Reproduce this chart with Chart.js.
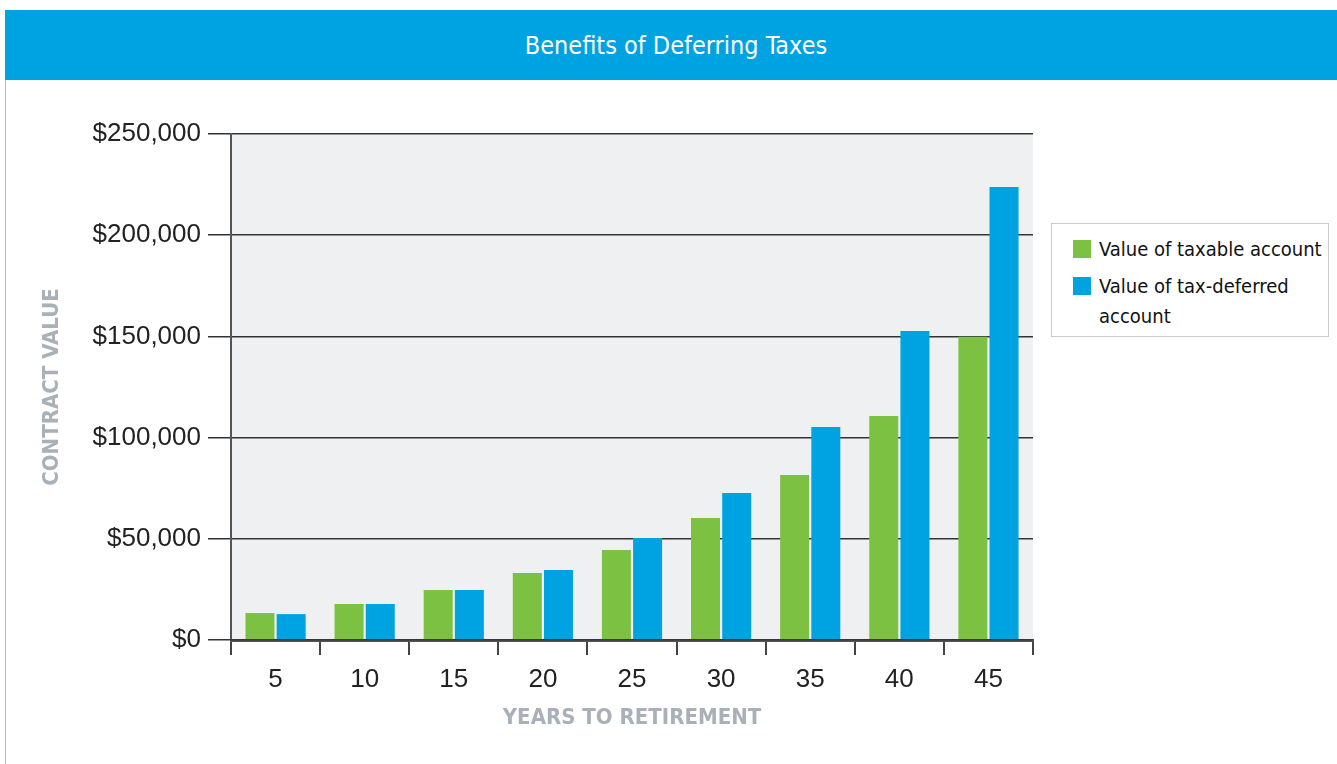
<!DOCTYPE html>
<html>
<head>
<meta charset="utf-8">
<script src="https://cdn.jsdelivr.net/npm/chart.js@4.4.1/dist/chart.umd.min.js"></script>
<style>
  html, body { margin: 0; padding: 0; background: #fff; width: 1337px; height: 764px; overflow: hidden; }
  .title-bar {
    position: absolute; left: 5px; top: 10px; width: 1332px; height: 70px;
    background: #00a3e2; color: #fff;
    font-family: 'Liberation Sans Narrow', 'DejaVu Sans Condensed', 'Liberation Sans', sans-serif;
    font-size: 25px; line-height: 72px; text-align: center; padding-left: 10px; box-sizing: border-box;
  }
  .panel { position: absolute; left: 5px; top: 80px; width: 1332px; height: 684px; border-left: 1px solid #b5bbc2; box-sizing: border-box; }
  .chart-box { position: absolute; left: 6px; top: 80px; width: 1331px; height: 684px; }
  .legend {
    position: absolute; left: 1051px; top: 223px; width: 278px; height: 114px;
    border: 1px solid #c9cdd2; box-sizing: border-box; background: #fff;
    font-family: 'Liberation Sans Narrow', 'DejaVu Sans Condensed', 'Liberation Sans', sans-serif;
    font-size: 20px; color: #111; padding: 15px 2px 0 21px;
  }
  .legend-item { display: flex; align-items: flex-start; margin-bottom: 12px; }
  .legend-swatch { width: 18px; height: 18px; flex: none; margin-top: 1px; margin-right: 8px; }
  .legend-text { line-height: 30px; margin-top: -5px; }
</style>
</head>
<body>
<div class="title-bar">Benefits of Deferring Taxes</div>
<div class="panel"></div>
<div class="chart-box"><canvas id="taxChart" width="1331" height="684"></canvas></div>
<div class="legend" id="legend"></div>

<script>
// ---- data ----
const years = ['5', '10', '15', '20', '25', '30', '35', '40', '45'];
const taxableValues = [13300, 17800, 24700, 33100, 44500, 60300, 81500, 110700, 149800];
const deferredValues = [12800, 17800, 24700, 34600, 50400, 72600, 105200, 152700, 223800];
const seriesNames = ['Value of taxable account', 'Value of tax-deferred account'];
const yTicks = [0, 50000, 100000, 150000, 200000, 250000];

const GREEN = '#7cc142';
const BLUE = '#00a3e2';
const narrowFont = "'Liberation Sans Narrow', 'DejaVu Sans Condensed', 'Liberation Sans', sans-serif";

Chart.defaults.font.family = "'Liberation Sans', Arial, sans-serif";
Chart.defaults.color = '#222';

// Gray plot background
const plotBackground = {
    id: 'plotBackground',
    beforeDraw(chart) {
        const { ctx, chartArea: a } = chart;
        ctx.save();
        ctx.fillStyle = '#eff0f2';
        ctx.fillRect(a.left, a.top, a.right - a.left, a.bottom - a.top);
        ctx.restore();
    }
};

const chart = new Chart(document.getElementById('taxChart').getContext('2d'), {
    type: 'bar',
    data: {
        labels: years,
        datasets: [
            { label: seriesNames[0], data: taxableValues, backgroundColor: GREEN,
              categoryPercentage: 0.7, barPercentage: 0.93 },
            { label: seriesNames[1], data: deferredValues, backgroundColor: BLUE,
              categoryPercentage: 0.7, barPercentage: 0.93 }
        ]
    },
    options: {
        responsive: false,
        animation: false,
        layout: { padding: { top: 54, right: 304, bottom: 0, left: 0 } },
        plugins: {
            legend: { display: false },
            tooltip: { enabled: false }
        },
        scales: {
            x: {
                offset: true,
                afterFit: (scale) => { scale.height = 124; },
                grid: { offset: true, drawOnChartArea: false, drawTicks: true, tickLength: 15, color: '#444', lineWidth: 2 },
                border: { display: true, color: 'rgba(55,55,55,0.85)', width: 3, z: 1 },
                ticks: { font: { size: 26 }, color: '#222', padding: 9 },
                title: {
                    display: true, text: 'YEARS TO RETIREMENT', color: '#a9b0b8',
                    font: { family: narrowFont, size: 22, weight: 'bold' },
                    padding: { top: 0, bottom: 33 }
                }
            },
            y: {
                min: 0,
                max: 250000,
                afterFit: (scale) => { scale.width = 225; },
                afterBuildTicks: (scale) => { scale.ticks = yTicks.map(v => ({ value: v })); },
                grid: { color: '#333', lineWidth: 1.5, tickLength: 23 },
                border: { display: true, color: '#555', width: 2 },
                ticks: {
                    font: { size: 26 }, color: '#222', padding: 7,
                    callback: (v) => '$' + v.toLocaleString('en-US')
                },
                title: {
                    display: true, text: 'CONTRACT VALUE', color: '#a9b0b8',
                    font: { family: narrowFont, size: 22, weight: 'bold' },
                    padding: { top: 33, bottom: 0 }
                }
            }
        }
    },
    plugins: [plotBackground]
});

// HTML legend built from the chart's datasets
const legendEl = document.getElementById('legend');
chart.data.datasets.forEach((ds) => {
    const item = document.createElement('div');
    item.className = 'legend-item';
    const sw = document.createElement('span');
    sw.className = 'legend-swatch';
    sw.style.background = ds.backgroundColor;
    const txt = document.createElement('span');
    txt.className = 'legend-text';
    txt.textContent = ds.label;
    item.appendChild(sw);
    item.appendChild(txt);
    legendEl.appendChild(item);
});
</script>
</body>
</html>
